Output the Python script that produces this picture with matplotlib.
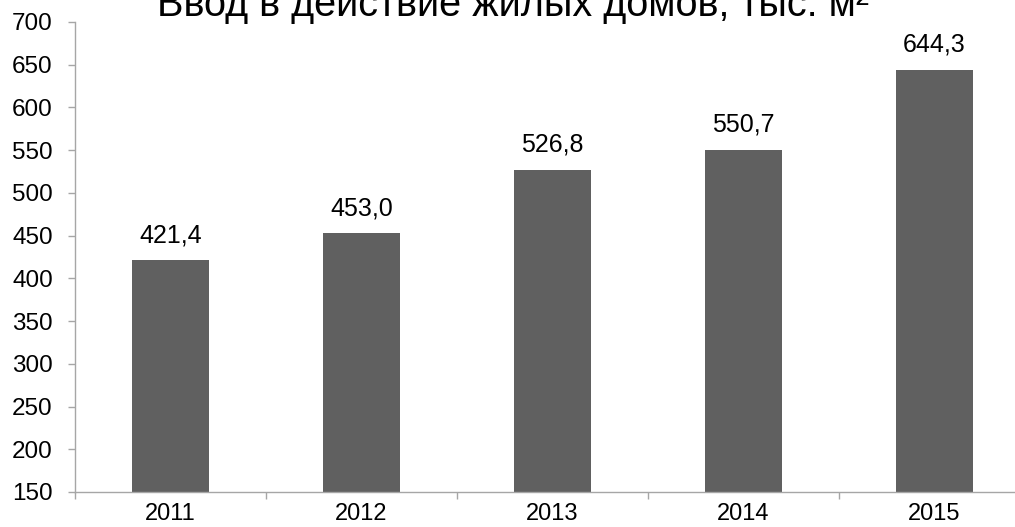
import matplotlib
matplotlib.use('Agg')
import matplotlib.pyplot as plt
import numpy as np

plt.rcParams['font.family'] = ['Liberation Sans', 'DejaVu Sans']

years = ['2011', '2012', '2013', '2014', '2015']
values = [421.4, 453.0, 526.8, 550.7, 644.3]
yticks = list(range(150, 701, 50))
title = 'Ввод в действие жилых домов, тыс. м²'

fig = plt.figure(figsize=(10.15, 5.27), dpi=100)
# axes run past the right edge, like the cropped original
ax = fig.add_axes([75 / 1015, 35 / 527, 955 / 1015, 470 / 527])

x = np.arange(len(years))
ax.bar(x, values, width=0.40, color='#606060', zorder=2)
for xi, v in zip(x, values):
    ax.annotate(('%.1f' % v).replace('.', ','), (xi, v), xytext=(0, 13),
                textcoords='offset points', ha='center', va='baseline',
                fontsize=18, color='#000000')

ax.set_xlim(-0.5, len(years) - 0.5)
ax.set_ylim(150, 700)
ax.set_yticks(yticks)
ax.set_yticklabels([str(t) for t in yticks], fontsize=17.5)
ax.set_xticks(x)
ax.set_xticklabels(years, fontsize=17)
ax.set_xticks(np.arange(-0.5, len(years)), minor=True)
ax.tick_params(axis='x', which='major', length=0, pad=8)
ax.tick_params(axis='x', which='minor', length=5, color='#a6a6a6', width=1)
ax.tick_params(axis='y', length=5, color='#a6a6a6', width=1, pad=11)

for s in ['top', 'right']:
    ax.spines[s].set_visible(False)
for s in ['left', 'bottom']:
    ax.spines[s].set_color('#a6a6a6')
    ax.spines[s].set_linewidth(1)

# title is cut by the top edge in the original
fig.text(513 / 1015, 1 - 16 / 527, title, ha='center', va='baseline',
         fontsize=28.5, color='#000000')

fig.savefig('out.png', dpi=100)
